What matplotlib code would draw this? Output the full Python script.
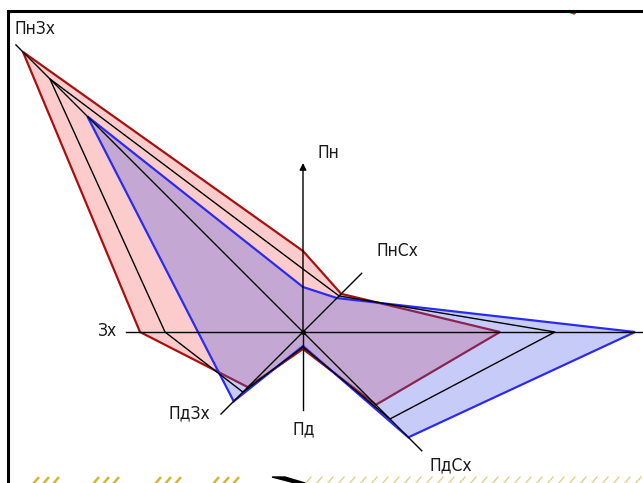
import numpy as np
import matplotlib
matplotlib.use("Agg")
import matplotlib.pyplot as plt
from matplotlib.patches import Polygon

plt.rcParams['font.family'] = ['DejaVu Sans']

# напрямки (румби) і значення для трьох багатокутників
directions = ['Пн', 'ПнСх', 'Сх', 'ПдСх', 'Пд', 'ПдЗх', 'Зх', 'ПнЗх']
angles_deg = [90, 45, 0, -45, -90, -135, 180, 135]
red_vals = [8.1, 5.4, 19.7, 10.3, 1.7, 7.8, 16.3, 39.6]
black_vals = [6.3, 5.1, 25.2, 12.3, 1.5, 8.5, 13.8, 35.8]
blue_vals = [4.5, 4.8, 33.2, 14.9, 1.4, 9.8, 10.5, 30.5]

# довжина осей і місця підписів
axis_len = [16.9, 8.3, 40.0, 16.8, 7.8, 11.6, 17.7, 40.6]
label_pos = {
    'Пн': (1.4, 17.9), 'ПнСх': (9.4, 8.1), 'ПдСх': (14.8, -13.3),
    'Пд': (0.1, -9.7), 'ПдЗх': (-11.4, -8.1), 'Зх': (-19.5, 0.1),
    'ПнЗх': (-26.8, 30.3),
}


def to_xy(vals):
    a = np.radians(angles_deg)
    r = np.array(vals)
    return np.column_stack([r * np.cos(a), r * np.sin(a)])


fig = plt.figure(figsize=(6.43, 4.83), dpi=100)
ax = fig.add_axes([0, 0, 1, 1])
ax.set_xlim(-30.3, 34.0)
ax.set_ylim(-15.1, 33.2)
ax.axis('off')

# червоний багатокутник
ax.add_patch(Polygon(to_xy(red_vals), closed=True, facecolor='#fccccc',
                     edgecolor='#a81010', lw=1.6, zorder=1))
# синій багатокутник (напівпрозорий)
ax.add_patch(Polygon(to_xy(blue_vals), closed=True, facecolor=(0.28, 0.33, 0.91, 0.3),
                     edgecolor='none', zorder=2))
ax.add_patch(Polygon(to_xy(blue_vals), closed=True, facecolor='none',
                     edgecolor='#2b2bf0', lw=1.6, zorder=3))
# чорний багатокутник
ax.add_patch(Polygon(to_xy(black_vals), closed=True, facecolor='none',
                     edgecolor='black', lw=1.0, zorder=4))

# осі
for name, ang, L in zip(directions, angles_deg, axis_len):
    a = np.radians(ang)
    if name == 'Пн':
        ax.annotate('', xy=(0, L), xytext=(0, 0),
                    arrowprops=dict(arrowstyle='-|>', color='black', lw=1.0,
                                    mutation_scale=10, shrinkA=0, shrinkB=0),
                    zorder=5)
    else:
        ax.plot([0, L * np.cos(a)], [0, L * np.sin(a)], color='black', lw=1.0, zorder=5)
ax.plot([0], [0], 'o', color='black', ms=2.5, zorder=6)

for name, (x, y) in label_pos.items():
    ha = 'left' if name == 'Пн' else 'center'
    ax.text(x, y, name, fontsize=12.5, fontstretch='condensed', fontweight='light',
            ha=ha, va='center', color='#1a1a1a', zorder=7)

# рамка
ax.plot([-29.5, -29.5, 40], [-20, 32.1, 32.1], color='black', lw=2.2,
        clip_on=False, solid_joinstyle='miter', zorder=8)
ax.add_patch(Polygon([(26.7, 31.95), (27.3, 31.95), (27.1, 31.8)], closed=True,
                     color='#d02010', zorder=7))

# жовта штриховка внизу
for g in [-27.0, -21.0, -14.8, -9.0]:
    for k in range(3):
        x0 = g + k * 1.0
        ax.plot([x0, x0 + 0.6], [-15.2, -14.5], color='#d6b530', lw=1.8,
                solid_capstyle='butt', zorder=8)
for x0 in np.arange(0.2, 34.5, 1.1):
    ax.plot([x0, x0 + 0.6], [-15.2, -14.5], color='#e2cc78', lw=0.9, zorder=8)
ax.add_patch(Polygon([(-3.1, -14.5), (-1.8, -14.5), (0.2, -15.1), (-0.8, -15.1)],
                     closed=True, color='black', zorder=9))

plt.savefig('out.png', dpi=100)
